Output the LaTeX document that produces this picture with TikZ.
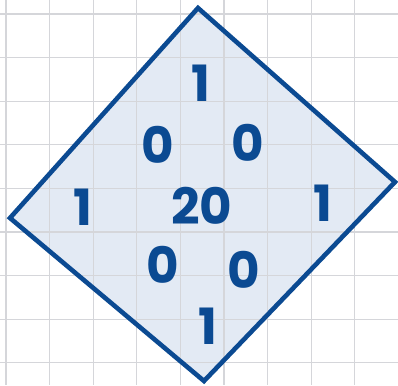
\documentclass[tikz,border=0pt]{standalone}
\usepackage{fontspec}
\setmainfont{Poppins}
\usepackage{tikz}
\usetikzlibrary{positioning}

\definecolor{inkblue}{HTML}{0B4A92}
\definecolor{paleblue}{HTML}{E3EAF4}
\definecolor{gridgray}{HTML}{D5D6DA}

\begin{document}
\begin{tikzpicture}[x=1pt,y=-1pt,
  digit/.style={text=inkblue, font=\fontsize{50}{50}\selectfont\bfseries, inner sep=0pt},
  gridline/.style={gridgray, line width=1.3pt},
  rim/.style={draw=inkblue, line width=4.6pt, line join=miter}
]
\useasboundingbox (0,0) rectangle (398,385);

% Diamond corners
\coordinate (dtop) at (198,8);
\coordinate (dright) at (395,182);
\coordinate (dbottom) at (204,381);
\coordinate (dleft) at (10,218);

% Fill, then grid, then outline
\fill[paleblue] (dtop) -- (dright) -- (dbottom) -- (dleft) -- cycle;
\foreach \k in {0,...,8} {
  \draw[gridline] (6+43.6*\k,0) -- (6+43.6*\k,385);
  \draw[gridline] (0,14+43.6*\k) -- (398,14+43.6*\k);
}
\draw[rim] (dtop) -- (dright) -- (dbottom) -- (dleft) -- cycle;

% Digits
\node[digit] (onetop) at (201,83) {1};
\node[digit] (zeroul) at (158,145) {0};
\node[digit] (zerour) at (248,143) {0};
\node[digit] (oneleft) at (83,207) {1};
\node[digit] (twenty) at (202,206) {20};
\node[digit] (oneright) at (323,203) {1};
\node[digit] (zeroll) at (163,265) {0};
\node[digit] (zerolr) at (244,270) {0};
\node[digit] (onebot) at (208,326) {1};
\end{tikzpicture}
\end{document}
